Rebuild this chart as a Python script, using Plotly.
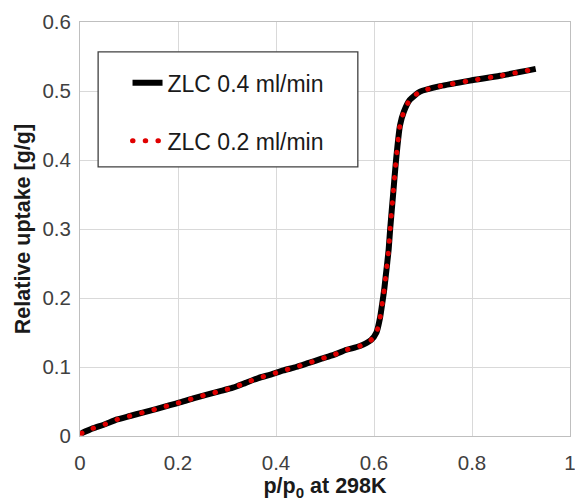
"""Relative uptake isotherm at 298K: ZLC runs at two flow rates."""
import plotly.graph_objects as go

# p/p0 readings and uptake [g/g] for each ZLC run
p_rel_04 = [0.003, 0.026, 0.051, 0.076, 0.102, 0.128, 0.155, 0.180, 0.206,
            0.233, 0.259, 0.286, 0.312, 0.338, 0.364, 0.389, 0.415, 0.441,
            0.467, 0.493, 0.519, 0.544, 0.570, 0.594, 0.605, 0.612, 0.617,
            0.621, 0.624, 0.627, 0.630, 0.633, 0.639, 0.645, 0.653, 0.661,
            0.673, 0.694, 0.735, 0.796, 0.857, 0.930]
uptake_04 = [0.004, 0.011, 0.017, 0.024, 0.029, 0.034, 0.039, 0.044, 0.049,
             0.055, 0.060, 0.065, 0.070, 0.077, 0.084, 0.089, 0.095, 0.100,
             0.106, 0.112, 0.118, 0.125, 0.130, 0.139, 0.150, 0.170, 0.193,
             0.213, 0.232, 0.251, 0.271, 0.300, 0.350, 0.400, 0.450, 0.470,
             0.487, 0.499, 0.507, 0.515, 0.522, 0.532]

p_rel_02 = list(p_rel_04)
uptake_02 = list(uptake_04)

x_ticks = [0, 0.2, 0.4, 0.6, 0.8, 1]
y_ticks = [0, 0.1, 0.2, 0.3, 0.4, 0.5, 0.6]

GRID = "#d9d9d9"
TEXT = "#404040"
RED = "#e00000"

fig = go.Figure()
fig.add_trace(
    go.Scatter(
        x=p_rel_04,
        y=uptake_04,
        mode="lines",
        name="ZLC 0.4 ml/min",
        line=dict(color="black", width=6, shape="spline", smoothing=0.6),
        legendgroup="a",
    )
)
fig.add_trace(
    go.Scatter(
        x=p_rel_02,
        y=uptake_02,
        mode="lines",
        name="ZLC 0.2 ml/min",
        line=dict(color=RED, width=5, dash="0.5px,12.2px",
                  shape="spline", smoothing=0.6),
        legendgroup="b",
    )
)

# legend frame (Excel style box)
fig.add_shape(
    type="rect", xref="paper", yref="paper",
    x0=0.037, x1=0.567, y0=0.65, y1=0.928,
    line=dict(color="#404040", width=1.3), fillcolor="white", layer="above",
)

# y axis title placed by hand (automargin is off, so standoff is ignored)
fig.add_annotation(
    text="<b>Relative uptake [g/g]</b>", textangle=-90,
    xref="paper", yref="paper", x=-0.116, y=0.5,
    xanchor="center", yanchor="middle", showarrow=False,
    font=dict(size=21.5, color="#1a1a1a"),
)

fig.update_layout(
    width=575,
    height=501,
    paper_bgcolor="white",
    plot_bgcolor="white",
    margin=dict(l=80, r=5, t=22, b=65),
    font=dict(family="Liberation Sans, Arial, sans-serif", color=TEXT, size=20.5),
    showlegend=True,
    legend=dict(
        x=0.097, y=0.905, xanchor="left", yanchor="top",
        bgcolor="rgba(0,0,0,0)", borderwidth=0,
        font=dict(size=23, color="#1a1a1a"),
        traceorder="grouped", tracegroupgap=25,
    ),
    xaxis=dict(
        range=[0, 1], tickvals=x_ticks, showgrid=True, gridcolor=GRID,
        showline=True, linecolor="#bfbfbf", mirror=True, zeroline=False,
        ticks="", automargin=False, ticklabeloverflow="allow",
        ticklabelstandoff=8,
        title=dict(text="<b>p/p<sub>0</sub> at 298K</b>",
                   font=dict(size=21.5, color="#1a1a1a")),
    ),
    yaxis=dict(
        range=[0, 0.6], tickvals=y_ticks, showgrid=True, gridcolor=GRID,
        showline=True, linecolor="#bfbfbf", mirror=True, zeroline=False,
        ticks="", automargin=False, ticklabelstandoff=4,
    ),
)

# drop the page margin, and give the dotted series round caps so it
# shows as round dots like the Excel original
page_fix = """
document.body.style.margin = '0';
document.querySelectorAll('path').forEach(function (p) {
  if ((p.style.stroke || '').replace(/\\s/g, '') === 'rgb(224,0,0)') {
    p.style.strokeLinecap = 'round';
  }
});
"""

fig.write_html("out.html", post_script=page_fix,
               config={"displayModeBar": False})
